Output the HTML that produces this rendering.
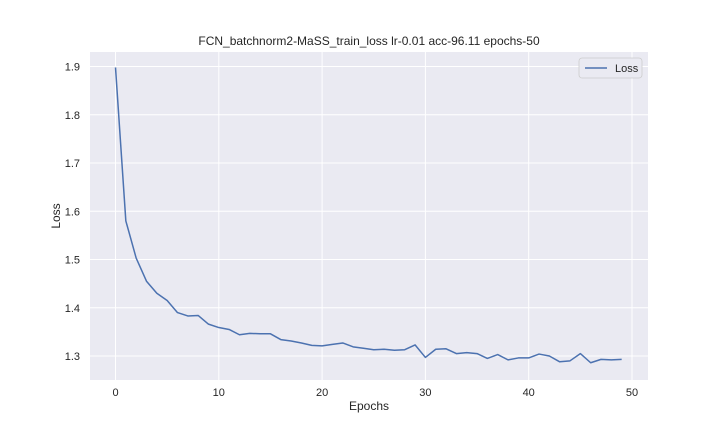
<!DOCTYPE html>
<html><head><meta charset="utf-8"><style>
body{margin:0;background:#fff;font-family:"Liberation Sans",sans-serif}
svg text{font-family:"Liberation Sans",sans-serif;fill:#262626}
</style></head><body>
<svg id="chart" width="720" height="432" xmlns="http://www.w3.org/2000/svg">
<rect width="720" height="432" fill="#fff"/>
<rect x="90" y="52" width="558" height="328" fill="#eaeaf2"/>
<g id="grid"></g>
<g id="ticks"></g>
<path id="line" fill="none" stroke="#4c72b0" stroke-width="1.5" stroke-linejoin="round"/>
<text x="369" y="45" font-size="12" text-anchor="middle">FCN_batchnorm2-MaSS_train_loss lr-0.01 acc-96.11 epochs-50</text>
<text x="369" y="410" font-size="12" text-anchor="middle">Epochs</text>
<text transform="translate(60,216) rotate(-90)" font-size="12" text-anchor="middle">Loss</text>
<g>
<rect x="579" y="58" width="63" height="20" rx="3" fill="#eaeaf2" stroke="#ccc" stroke-width="0.8"/>
<line x1="585" y1="68" x2="607" y2="68" stroke="#4c72b0" stroke-width="1.5"/>
<text x="615" y="72" font-size="11">Loss</text>
</g>
</svg>
<script>
const epochs=[...Array(50).keys()];
const lossValues=[1.898,1.58,1.503,1.455,1.43,1.415,1.39,1.383,1.384,1.366,1.359,1.355,1.344,1.347,1.346,1.346,1.334,1.331,1.327,1.322,1.321,1.324,1.327,1.319,1.316,1.313,1.314,1.312,1.313,1.323,1.297,1.314,1.315,1.305,1.307,1.305,1.295,1.303,1.292,1.296,1.296,1.304,1.300,1.288,1.290,1.305,1.286,1.293,1.292,1.293];
const xTicks=[0,10,20,30,40,50];
const yTicks=[1.3,1.4,1.5,1.6,1.7,1.8,1.9];
const xs=v=>115.5+v*10.33;
const ys=v=>356-(v-1.3)*482.5;
const NS="http://www.w3.org/2000/svg";
const grid=document.getElementById('grid'),ticks=document.getElementById('ticks');
xTicks.forEach(t=>{
 const l=document.createElementNS(NS,'line');
 l.setAttribute('x1',xs(t));l.setAttribute('x2',xs(t));l.setAttribute('y1',52);l.setAttribute('y2',380);
 l.setAttribute('stroke','#fff');l.setAttribute('stroke-width','1');
 
 
 grid.appendChild(l);
 const tx=document.createElementNS(NS,'text');
 tx.setAttribute('x',xs(t));tx.setAttribute('y',396);tx.setAttribute('font-size','11');tx.setAttribute('text-anchor','middle');
 tx.textContent=t;
 
 
 ticks.appendChild(tx);
});
yTicks.forEach(t=>{
 const l=document.createElementNS(NS,'line');
 l.setAttribute('y1',ys(t));l.setAttribute('y2',ys(t));l.setAttribute('x1',90);l.setAttribute('x2',648);
 l.setAttribute('stroke','#fff');l.setAttribute('stroke-width','1');
 
 
 grid.appendChild(l);
 const tx=document.createElementNS(NS,'text');
 tx.setAttribute('x',80);tx.setAttribute('y',ys(t)+4);tx.setAttribute('font-size','11');tx.setAttribute('text-anchor','end');
 tx.textContent=t.toFixed(1);
 
 
 ticks.appendChild(tx);
});
document.getElementById('line').setAttribute('d',lossValues.map((v,i)=>(i?'L':'M')+xs(epochs[i]).toFixed(2)+','+ys(v).toFixed(2)).join(''));
</script>
</body></html>
